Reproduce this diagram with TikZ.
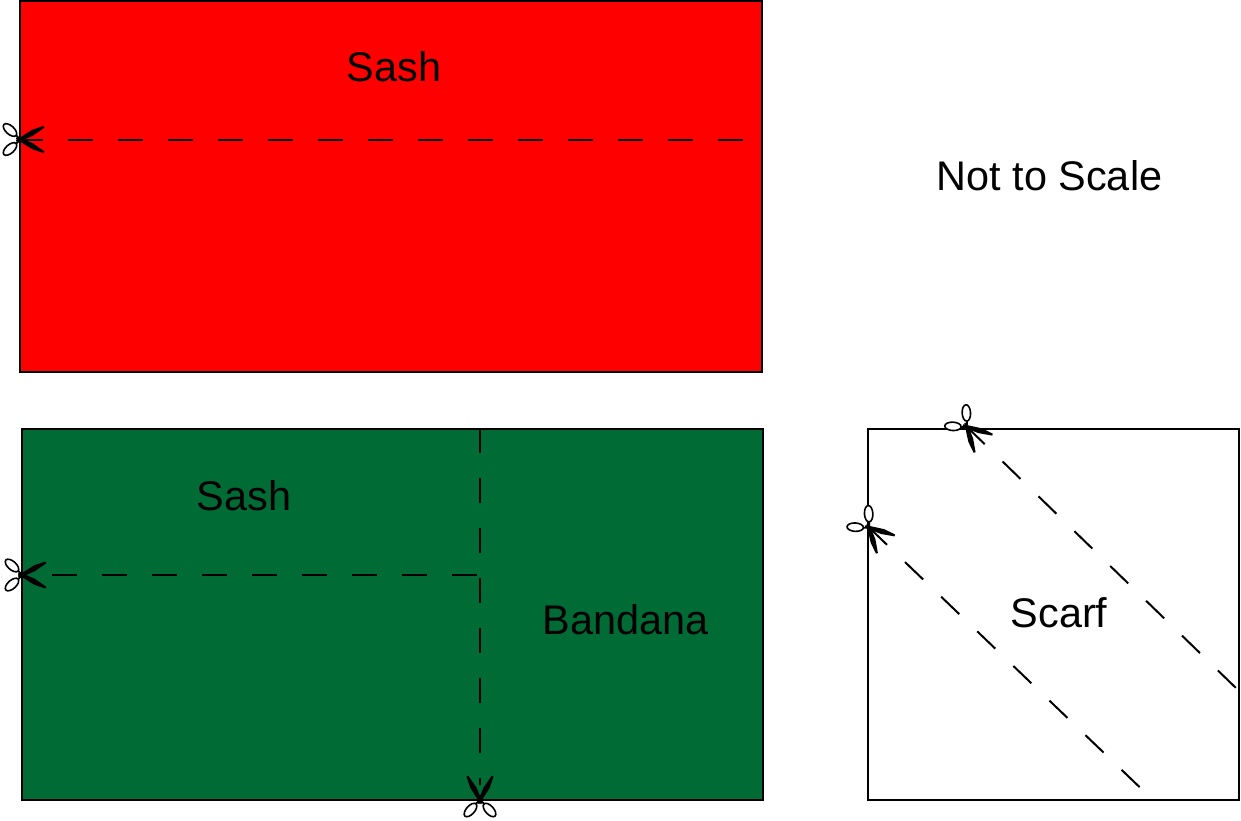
\documentclass[tikz,border=0pt]{standalone}
\usepackage{fontspec}
\setmainfont{Liberation Sans}
\definecolor{sashred}{HTML}{FF0000}
\definecolor{sashgreen}{HTML}{006B35}
\tikzset{
  x=1pt,y=-1pt,
  cloth/.style={draw=black,line width=2pt,rectangle,inner sep=0pt,outer sep=0pt,minimum width=#1,minimum height=370.5pt},
  label text/.style={font=\fontsize{41.4}{48}\selectfont,text=black,inner sep=0pt},
  cutline/.style={draw=black,line width=2pt,dash pattern=on 25pt off 25pt},
  blade/.style={fill=black},
  scissors/.pic={
    % blades
    \begin{scope}[rotate=27.5]
      \fill[blade] (-4,-1.3) -- (15,-3) -- (27,-1.2) -- (27,0.8) -- (13,2.6) -- (-4,1.3) -- cycle;
    \end{scope}
    \begin{scope}[rotate=-27.5]
      \fill[blade] (-4,1.3) -- (15,3) -- (27,1.2) -- (27,-0.8) -- (13,-2.6) -- (-4,-1.3) -- cycle;
    \end{scope}
    % shanks
    \draw[black,line width=1.8pt] (0,0) -- (-4,4.5);
    \draw[black,line width=1.8pt] (0,0) -- (-4,-4.5);
    % loops
    \draw[black,fill=white,line width=1.6pt] (-10,9.5) ellipse[x radius=8.2,y radius=4.2,rotate=42];
    \draw[black,fill=white,line width=1.6pt] (-10,-9.5) ellipse[x radius=8.2,y radius=4.2,rotate=-42];
  }
}
\begin{document}
\begin{tikzpicture}
\useasboundingbox (0,0) rectangle (1241,820);
\node[cloth=741.5pt,fill=sashred,anchor=north west] (red) at (20,1) {};
\node[cloth=741.5pt,fill=sashgreen,anchor=north west] (green) at (21.5,429) {};
\node[cloth=371pt,fill=white,anchor=north west] (scarf) at (868,429) {};

\node[label text] (t1) at (394,67) {Sash};
\node[label text] (t2) at (1049.5,176) {Not to Scale};
\node[label text] (t3) at (244,496) {Sash};
\node[label text] (t4) at (625.5,620) {Bandana};
\node[label text] (t5) at (1059,613) {Scarf};

\coordinate (a1) at (18,139.5);   \coordinate (a2) at (743,139.5);
\coordinate (b0) at (22,575);     \coordinate (b0e) at (27,575);
\coordinate (b1) at (52,575);     \coordinate (b2) at (477,575);
\coordinate (c1) at (479.5,428);  \coordinate (c2) at (479.5,785);
\coordinate (d1) at (966.7,426.7);\coordinate (d2) at (1237,689);
\coordinate (e1) at (869,527.5);  \coordinate (e2) at (1140,787.5);

\draw[cutline] (a1) -- (a2);
\draw[cutline] (b0) -- (b0e);
\draw[cutline] (b1) -- (b2);
\draw[cutline] (c1) -- (c2);
\draw[cutline] (d1) -- (d2);
\draw[cutline] (e1) -- (e2);

\pic at (20,139.5) {scissors};
\pic at (22,575) {scissors};
\pic[rotate=90] at (480,800) {scissors};
\pic[rotate=-45] at (d1) {scissors};
\pic[rotate=-45] at (e1) {scissors};
\end{tikzpicture}
\end{document}
